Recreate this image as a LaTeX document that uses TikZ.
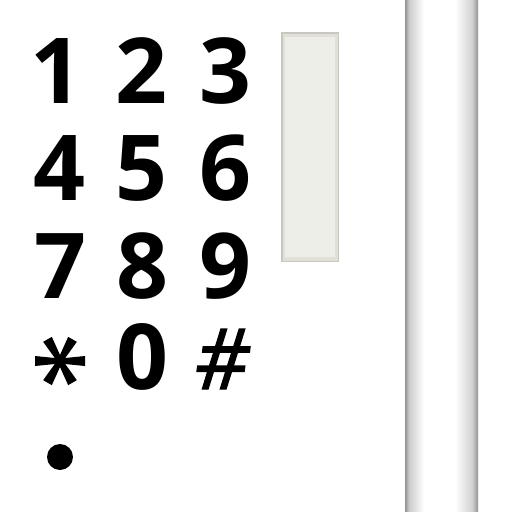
\documentclass[tikz,border=0pt]{standalone}
\usepackage{fontspec}
\setmainfont{Open Sans}
\newfontfamily\hashfont[FakeSlant=0.12,FakeBold=1.6]{Open Sans}
\definecolor{panelbg}{RGB}{238,238,232}
\definecolor{panelrim}{RGB}{200,200,193}
\definecolor{panelmid}{RGB}{224,224,217}
\begin{document}
\begin{tikzpicture}[x=1pt,y=-1pt,
  key/.style={inner sep=0pt,anchor=base,font=\fontsize{91}{91}\bfseries\selectfont}]
\useasboundingbox (0,0) rectangle (512,512);
\fill[white] (0,0) rectangle (512,512);
% keypad
\node[key] (k1) at (56,103) {1};
\node[key] (k2) at (141,103) {2};
\node[key] (k3) at (225,103) {3};
\node[key] (k4) at (59,200) {4};
\node[key] (k5) at (141,200) {5};
\node[key] (k6) at (225,200) {6};
\node[key] (k7) at (60,298) {7};
\node[key] (k8) at (142,298) {8};
\node[key] (k9) at (225,298) {9};
\coordinate (kstar) at (60,361);
\foreach \a in {0,60,...,300}
  \fill[rotate around={\a:(kstar)}] ([yshift=-2.5pt]kstar) -- ++(25,2.5) -- ++(0,-10) -- ([yshift=2.5pt]kstar) -- cycle;
\fill (kstar) circle (5);
\node[key] (k0) at (142,389) {0};
\node[key,font=\fontsize{84}{84}\hashfont\selectfont] (khash) at (220,389) {\#};
\node[circle,fill=black,inner sep=0pt,minimum size=26pt] (dot) at (60,457) {};
% display panel
\fill[panelrim] (281,32) rectangle (339,262);
\fill[panelmid] (282.5,33.5) rectangle (337.5,260.5);
\fill[panelbg] (285,37) rectangle (335,257);
% vertical bar
\shade[left color=gray!85,right color=gray!40] (405,0) rectangle (409,512);
\shade[left color=gray!40,right color=white] (409,0) rectangle (424,512);
\fill[white] (424,0) rectangle (455,512);
\shade[left color=white,right color=gray!35] (455,0) rectangle (472,512);
\shade[left color=gray!35,right color=gray!85] (472,0) rectangle (478,512);
\end{tikzpicture}
\end{document}
